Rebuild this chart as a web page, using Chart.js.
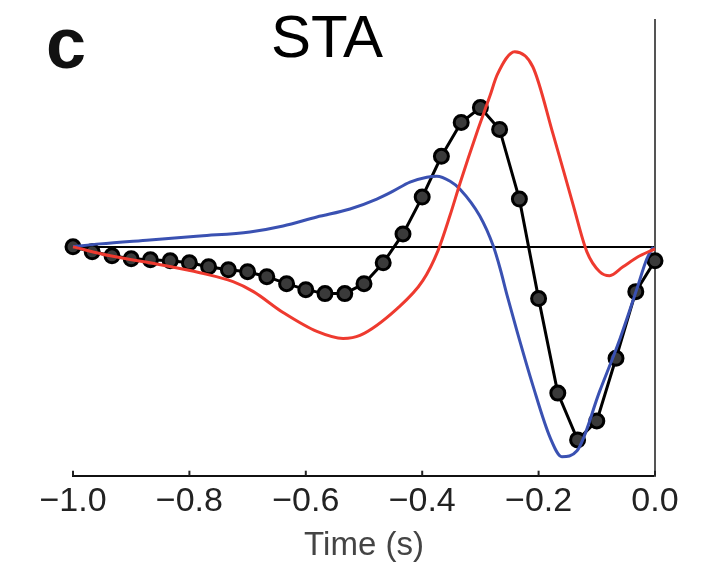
<!DOCTYPE html>
<html lang="en">
<head>
<meta charset="UTF-8">
<title>STA</title>
<script src="https://cdn.jsdelivr.net/npm/chart.js@4.4.0/dist/chart.umd.min.js"></script>
<style>
    body { margin: 0; background: #fff; }
    #wrap { position: relative; width: 703px; height: 565px; }
    .lbl { position: absolute; font-family: "Liberation Sans", Arial, sans-serif; line-height: 1; color: #000; }
    #panel { left: 46px; top: 7px; font-size: 72px; font-weight: bold; color: #111; }
    #title { left: 227px; top: 7px; width: 200px; text-align: center; font-size: 60px; }
</style>
</head>
<body>
<div id="wrap">
    <canvas id="sta" width="703" height="565"></canvas>
    <div class="lbl" id="panel">c</div>
    <div class="lbl" id="title">STA</div>
</div>
<script>
    // x ticks
    var xTicks = [-1.0, -0.8, -0.6, -0.4, -0.2, 0.0];

    // black trace with markers (sampled every 1/30 s)
    var blackTime = [-1.000, -0.967, -0.933, -0.900, -0.867, -0.833, -0.800, -0.767, -0.733, -0.700,
        -0.667, -0.633, -0.600, -0.567, -0.533, -0.500, -0.467, -0.433, -0.400, -0.367,
        -0.333, -0.300, -0.267, -0.233, -0.200, -0.167, -0.133, -0.100, -0.067, -0.033, 0.000];
    var blackVal = [0, -0.5, -0.9, -1.2, -1.3, -1.4, -1.6, -2.0, -2.3, -2.5,
        -3.0, -3.7, -4.3, -4.7, -4.7, -3.7, -1.6, 1.3, 5.0, 9.1,
        12.5, 14.0, 11.8, 4.8, -5.2, -14.7, -19.4, -17.5, -11.2, -4.5, -1.4];

    // red curve
    var redTime = [-1.0, -0.936, -0.85, -0.782, -0.725, -0.69, -0.639, -0.581, -0.536, -0.507,
        -0.443, -0.399, -0.373, -0.352, -0.335, -0.306, -0.284, -0.271, -0.241, -0.21,
        -0.175, -0.141, -0.117, -0.095, -0.078, -0.055, -0.026, 0.0];
    var redVal = [0, -0.9, -1.8, -2.6, -3.5, -4.5, -6.6, -8.5, -9.2, -8.9,
        -6.2, -3.4, -0.4, 3.2, 6.4, 11.5, 15.1, 17.3, 19.6, 18.1,
        11.3, 4.3, -0.5, -2.5, -2.9, -2.0, -0.9, -0.2];

    // blue curve
    var blueTime = [-1.0, -0.954, -0.868, -0.782, -0.696, -0.639, -0.581, -0.524, -0.478, -0.45,
        -0.421, -0.392, -0.375, -0.352, -0.335, -0.301, -0.278, -0.266, -0.254, -0.237,
        -0.21, -0.18, -0.16, -0.134, -0.095, -0.06, -0.031, -0.014, -0.003];
    var blueVal = [0, 0.3, 0.7, 1.1, 1.5, 2.1, 3.0, 3.8, 4.8, 5.6,
        6.5, 7.0, 7.1, 6.6, 5.8, 3.1, 0.1, -2.2, -4.9, -8.5,
        -13.9, -19.2, -21.1, -20.5, -14.5, -9.2, -4.2, -1.2, 0];

    function pts(xs, ys) {
        return xs.map(function (x, i) { return { x: x, y: ys[i] }; });
    }

    // short inward tick marks on the time axis
    var innerTicks = {
        id: 'innerTicks',
        afterDatasetsDraw: function (chart) {
            var sx = chart.scales.x;
            var yb = chart.chartArea.bottom;
            var ctx = chart.ctx;
            ctx.save();
            ctx.strokeStyle = '#222';
            ctx.lineWidth = 2;
            xTicks.forEach(function (t) {
                var px = sx.getPixelForValue(t);
                ctx.beginPath();
                ctx.moveTo(px, yb);
                ctx.lineTo(px, yb - 5);
                ctx.stroke();
            });
            ctx.restore();
        }
    };

    var font = "'Liberation Sans', Arial, sans-serif";

    new Chart(document.getElementById('sta'), {
        type: 'line',
        data: {
            datasets: [
                {
                    data: pts(redTime, redVal),
                    borderColor: '#ee3a2f',
                    borderWidth: 3,
                    pointRadius: 0,
                    cubicInterpolationMode: 'monotone',
                    clip: false,
                    order: 0
                },
                {
                    data: pts(blueTime, blueVal),
                    borderColor: '#3a51b2',
                    borderWidth: 3,
                    pointRadius: 0,
                    cubicInterpolationMode: 'monotone',
                    clip: false,
                    order: 1
                },
                {
                    data: pts(blackTime, blackVal),
                    borderColor: '#000',
                    borderWidth: 3,
                    pointRadius: 7,
                    pointBorderWidth: 3,
                    pointBorderColor: '#000',
                    pointBackgroundColor: '#3a3a3a',
                    tension: 0,
                    clip: false,
                    order: 2
                }
            ]
        },
        options: {
            responsive: false,
            animation: false,
            layout: { padding: { left: 73, right: 48, top: 20, bottom: 1 } },
            plugins: {
                legend: { display: false },
                tooltip: { enabled: false }
            },
            scales: {
                x: {
                    type: 'linear',
                    min: -1.0,
                    max: 0.0,
                    afterBuildTicks: function (axis) {
                        axis.ticks = xTicks.map(function (v) { return { value: v }; });
                    },
                    ticks: {
                        padding: 9,
                        color: '#222',
                        font: { family: font, size: 34, lineHeight: 1.0 },
                        maxRotation: 0,
                        callback: function (v) {
                            var s = Math.abs(v).toFixed(1);
                            return v < -1e-9 ? '\u2212' + s : s;
                        }
                    },
                    grid: { drawOnChartArea: false, drawTicks: false },
                    border: { display: true, color: '#111', width: 2 },
                    title: {
                        display: true,
                        text: 'Time (s)',
                        color: '#444',
                        font: { family: font, size: 33, lineHeight: 1.1 },
                        padding: { top: 0, bottom: 0 }
                    }
                },
                y: {
                    position: 'right',
                    min: -23.0,
                    max: 22.8,
                    ticks: { display: false },
                    grid: {
                        drawTicks: false,
                        lineWidth: 2,
                        color: function (c) { return c.tick && c.tick.value === 0 ? '#000' : 'rgba(0,0,0,0)'; }
                    },
                    border: { display: true, color: '#555', width: 2 }
                }
            }
        },
        plugins: [innerTicks]
    });
</script>
</body>
</html>
